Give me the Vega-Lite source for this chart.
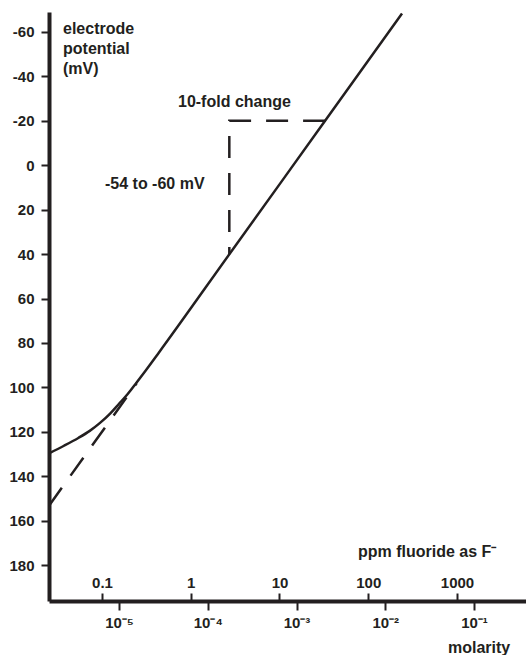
{
  "$schema": "https://vega.github.io/schema/vega-lite/v6.json",
  "width": 477,
  "height": 589,
  "autosize": {"type": "none"},
  "padding": {"left": 49, "top": 12, "right": 0, "bottom": 54},
  "background": "white",
  "config": {
    "view": {"stroke": null},
    "font": "Liberation Sans",
    "axis": {
      "grid": false,
      "domainColor": "#231f20",
      "domainWidth": 4,
      "tickColor": "#231f20",
      "tickWidth": 2,
      "labelFont": "Liberation Sans",
      "labelFontWeight": "bold",
      "labelFontSize": 15,
      "labelColor": "#231f20"
    }
  },
  "datasets": {
    "curve": [
      {"molarity": 1.626e-6, "mV": 129.7},
      {"molarity": 2.40e-6, "mV": 126.3},
      {"molarity": 3.48e-6, "mV": 122.8},
      {"molarity": 4.68e-6, "mV": 119.6},
      {"molarity": 6.11e-6, "mV": 116.0},
      {"molarity": 7.94e-6, "mV": 111.8},
      {"molarity": 1.0e-5, "mV": 107.4},
      {"molarity": 1.26e-5, "mV": 102.9},
      {"molarity": 1.58e-5, "mV": 97.8},
      {"molarity": 2.0e-5, "mV": 92.4},
      {"molarity": 2.82e-5, "mV": 84.3},
      {"molarity": 1.75e-4, "mV": 40.1},
      {"molarity": 2.10e-3, "mV": -20},
      {"molarity": 1.545e-2, "mV": -68.3}
    ],
    "extension": [
      {"molarity": 1.626e-6, "mV": 153.3},
      {"molarity": 1.58e-5, "mV": 98.2}
    ],
    "guide": [
      {"i": 0, "molarity": 2.10e-3, "mV": -20},
      {"i": 1, "molarity": 1.75e-4, "mV": -20},
      {"i": 2, "molarity": 1.75e-4, "mV": 40.1}
    ],
    "labels": [
      {"label": "electrode\npotential\n(mV)", "molarity": 2.34e-6, "mV": -59.0},
      {"label": "10-fold change", "molarity": 4.62e-5, "mV": -26.1},
      {"label": "-54 to -60 mV", "molarity": 6.95e-6, "mV": 10.5},
      {"label": "ppm fluoride as F⁻", "molarity": 4.93e-3, "mV": 176.5},
      {"label": "molarity", "molarity": 5.09e-2, "mV": 219.6}
    ]
  },
  "layer": [
    {
      "data": {"name": "curve"},
      "mark": {"type": "line", "color": "#231f20", "strokeWidth": 2.5, "interpolate": "monotone"},
      "encoding": {
        "x": {
          "field": "molarity",
          "type": "quantitative",
          "scale": {"type": "log", "domain": [1.626e-6, 0.3855], "nice": false},
          "axis": {
            "orient": "bottom",
            "title": null,
            "values": [1e-5, 1e-4, 1e-3, 1e-2, 1e-1],
            "tickSize": 9,
            "labelPadding": 5,
            "labelExpr": "datum.value < 5e-5 ? '10⁻⁵' : datum.value < 5e-4 ? '10⁻⁴' : datum.value < 5e-3 ? '10⁻³' : datum.value < 5e-2 ? '10⁻²' : '10⁻¹'"
          }
        },
        "y": {
          "field": "mV",
          "type": "quantitative",
          "scale": {"domain": [-69, 196.2], "reverse": true, "nice": false, "zero": false},
          "axis": {
            "orient": "left",
            "title": null,
            "values": [-60, -40, -20, 0, 20, 40, 60, 80, 100, 120, 140, 160, 180],
            "tickSize": 8,
            "labelPadding": 7,
            "labelExpr": "datum.value < 0 ? '-' + (-datum.value) : '' + datum.value"
          }
        }
      }
    },
    {
      "data": {"name": "extension"},
      "mark": {"type": "line", "color": "#231f20", "strokeWidth": 2.5, "strokeDash": [22, 15]},
      "encoding": {
        "x": {"field": "molarity", "type": "quantitative", "axis": null},
        "y": {
          "field": "mV",
          "type": "quantitative",
          "axis": {
            "orient": "left",
            "title": null,
            "values": [-60, -40, -20, 0, 20, 40, 60, 80, 100, 120, 140, 160, 180],
            "tickSize": 8,
            "labelPadding": 7,
            "labelExpr": "datum.value < 0 ? '-' + (-datum.value) : '' + datum.value"
          }
        }
      }
    },
    {
      "data": {"name": "guide"},
      "mark": {"type": "line", "color": "#231f20", "strokeWidth": 2.5, "strokeDash": [22, 15]},
      "encoding": {
        "x": {
          "field": "molarity",
          "type": "quantitative",
          "axis": {
            "orient": "top",
            "offset": -589,
            "title": null,
            "domain": false,
            "values": [6.43e-6, 6.43e-5, 6.43e-4, 6.43e-3, 6.43e-2],
            "tickSize": 8,
            "labelPadding": 3,
            "labelExpr": "datum.value < 3e-5 ? '0.1' : datum.value < 3e-4 ? '1' : datum.value < 3e-3 ? '10' : datum.value < 3e-2 ? '100' : '1000'"
          }
        },
        "y": {
          "field": "mV",
          "type": "quantitative",
          "axis": {
            "orient": "left",
            "title": null,
            "values": [-60, -40, -20, 0, 20, 40, 60, 80, 100, 120, 140, 160, 180],
            "tickSize": 8,
            "labelPadding": 7,
            "labelExpr": "datum.value < 0 ? '-' + (-datum.value) : '' + datum.value"
          }
        },
        "order": {"field": "i", "type": "quantitative"}
      }
    },
    {
      "data": {"name": "labels"},
      "mark": {
        "type": "text",
        "align": "left",
        "baseline": "alphabetic",
        "font": "Liberation Sans",
        "fontWeight": "bold",
        "fontSize": 16,
        "color": "#231f20",
        "lineBreak": "\n",
        "lineHeight": 20
      },
      "encoding": {
        "x": {"field": "molarity", "type": "quantitative", "axis": null},
        "y": {
          "field": "mV",
          "type": "quantitative",
          "axis": {
            "orient": "left",
            "title": null,
            "values": [-60, -40, -20, 0, 20, 40, 60, 80, 100, 120, 140, 160, 180],
            "tickSize": 8,
            "labelPadding": 7,
            "labelExpr": "datum.value < 0 ? '-' + (-datum.value) : '' + datum.value"
          }
        },
        "text": {"field": "label", "type": "nominal"}
      }
    }
  ],
  "resolve": {"axis": {"x": "independent", "y": "shared"}}
}
